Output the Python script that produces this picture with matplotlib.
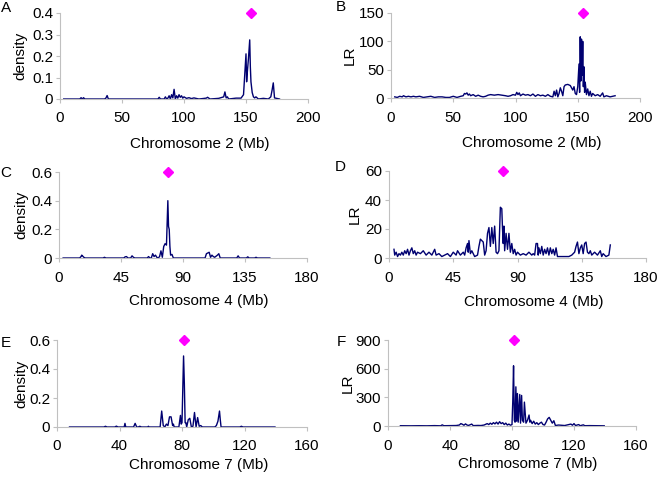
import numpy as np
import matplotlib.pyplot as plt
from matplotlib.ticker import FormatStrFormatter

plt.rcParams['font.family'] = ['Liberation Sans', 'DejaVu Sans']
plt.rcParams['font.size'] = 11

# ---- data ----
# A: chromosome 2, density
chr2_dens_pos = [3, 16, 17, 18, 19, 20, 36, 37, 38, 39, 79, 80, 81,
                 84, 85, 86, 87, 88, 89, 90, 91, 92, 93, 94, 95, 96, 97, 98, 99, 100,
                 102, 104, 106, 108, 112, 118, 119, 121,
                 128, 132, 133, 134, 135, 136,
                 142, 146, 148, 150, 150.5, 151, 152, 153, 153.5, 154, 155, 156, 157, 158, 160,
                 164, 168, 170, 171, 172, 173, 177]
chr2_dens_val = [0, 0, .006, 0, .006, 0, 0, .004, .016, 0, 0, .008, 0,
                 0, .01, 0, .004, .015, 0, .02, .005, .045, 0, .015, .004, .02, .008, .015, .004, .01,
                 .003, .006, .002, .005, 0, .004, .008, 0,
                 .003, .01, .033, .005, .01, 0,
                 .004, .004, .02, .21, .08, .12, .19, .275, .15, .08, .03, .01, .005, .01, 0,
                 .003, 0, .01, .04, .075, .005, 0]

# B: chromosome 2, LR
chr2_lr_pos = [3, 5, 7, 9, 10, 12, 14, 16, 18, 20, 23, 26, 29, 32, 35, 38, 41, 44, 47, 50,
               53, 56, 58, 59, 60, 61, 62, 63, 64, 66, 68, 70, 72, 74, 76, 78, 80, 83, 86, 89,
               92, 94, 96, 98, 100, 101, 102, 103, 104, 106, 108, 110, 112, 114, 116, 118, 120,
               122, 124, 126, 128, 130, 131, 132, 133, 134, 135, 136, 137, 138, 139, 140, 142,
               144, 146, 147, 148, 149, 150, 151, 151.5, 152, 152.5, 153, 153.5, 154, 154.5,
               155, 155.5, 156, 157, 158, 159, 160, 161, 162, 164, 166, 168, 170, 171, 173,
               176, 178, 180]
chr2_lr_val = [2, 1, 3, 2, 4, 2, 3, 2, 3, 2, 3, 1, 2, 3, 1, 2, 2, 1, 1, 3,
               1, 3, 4, 8, 7, 9, 5, 7, 4, 6, 3, 5, 3, 2, 3, 5, 6, 5, 6, 5,
               4, 3, 4, 6, 5, 10, 6, 9, 4, 7, 5, 6, 4, 7, 3, 6, 4,
               5, 3, 6, 3, 2, 12, 4, 14, 2, 8, 18, 12, 4, 20, 23, 24,
               22, 14, 20, 8, 6, 20, 60, 10, 108, 30, 104, 40, 100, 20,
               55, 10, 28, 6, 16, 4, 12, 3, 8, 4, 6, 3, 9, 2, 4,
               2, 3, 4]

# C: chromosome 4, density
chr4_dens_pos = [3, 15, 16, 16.5, 17, 18, 19, 32, 33, 34, 47, 48, 49, 50, 52, 53, 54, 55,
                 64, 65, 66, 67, 68, 69, 70, 71, 72, 73, 74, 75, 76, 77, 78, 79, 79.5, 80,
                 80.5, 81, 82, 83, 106, 107, 108, 109, 110, 111, 112, 113, 115, 116, 117,
                 129, 130, 131, 136, 137, 138, 142, 143, 144, 153]
chr4_dens_val = [0, 0, .01, .02, .015, .005, 0, 0, .005, 0, 0, .008, .01, 0, 0, .015, .005, 0,
                 0, .01, 0, 0, .03, .01, .02, .005, 0, .01, .05, .005, .08, .1, .09, .4, .22, .2,
                 .08, .02, .025, 0, 0, .03, .035, .04, .005, .02, .01, .005, .02, .03, 0,
                 0, .015, 0, 0, .008, 0, 0, .005, 0, 0]

# D: chromosome 4, LR
chr4_lr_pos = [3.5, 4, 5, 6, 7, 8, 9, 10, 11, 12, 13, 14, 15, 16, 17, 18, 19, 20, 22, 24,
               26, 28, 30, 32, 33, 35, 37, 39, 41, 43, 45, 47, 48, 50, 52, 53, 54, 55, 55.5,
               56, 57, 58, 60, 62, 63, 64, 65, 66, 67, 68, 69, 70, 71, 72, 73, 74, 75, 76,
               77, 78, 79, 79.5, 80, 80.5, 81, 82, 83, 84, 85, 86, 87, 88, 89, 90, 92, 94,
               96, 98, 100, 101, 102, 103, 104, 104.5, 105, 106, 107, 108, 109, 110, 111,
               112, 113, 114, 115, 116, 117, 118, 120, 123, 126, 128, 130, 131, 132, 133,
               134, 135, 136, 137, 138, 139, 140, 141, 142, 144, 146, 148, 149, 150, 152,
               154, 155]
chr4_lr_val = [6, 2, 4, 1, 3, 2, 4, 2, 5, 3, 6, 2, 5, 7, 3, 5, 2, 4, 3, 5,
               2, 4, 2, 6, 2, 3, 1, 2, 3, 1, 4, 2, 5, 2, 4, 2, 7, 10, 4,
               12, 3, 5, 1, 2, 8, 13, 12, 11, 2, 5, 17, 21, 8, 21, 10, 22, 4, 3,
               5, 35, 34, 20, 10, 22, 5, 17, 6, 17, 4, 10, 3, 6, 2, 4, 2, 3,
               2, 4, 2, 3, 2, 10, 10, 2, 7, 3, 8, 2, 6, 3, 7,
               2, 7, 3, 6, 2, 7, 1, 1, 1, 1, 2, 4, 8, 11, 3,
               7, 9, 3, 10, 11, 4, 3, 5, 2, 4, 2, 5, 1, 3, 1,
               2, 9]

# E: chromosome 7, density
chr7_dens_pos = [8, 30, 31, 32, 37, 38, 39, 43, 43.5, 44, 49, 50, 51, 52, 53, 54, 58, 58.5, 59,
                 66, 67, 68, 69, 70, 71, 72, 73, 74, 74.5, 75, 78, 79, 79.5, 80, 81, 81.5, 82,
                 82.5, 83, 84, 85, 86, 87, 88, 89, 90, 91, 92, 93, 101, 102, 103, 104, 104.5,
                 105, 117, 118, 119, 139.5]
chr7_dens_val = [0, 0, .005, 0, 0, .006, 0, 0, .025, 0, 0, .025, 0, 0, .005, 0, 0, .005, 0,
                 0, .11, .01, 0, .02, .01, .07, .07, .01, .02, 0, 0, .08, .02, .03, .49, .3, .03,
                 .03, 0, .05, .06, 0, .005, .1, 0, .065, .005, .01, 0, 0, .01, .04, .11, .05,
                 0, 0, .005, 0, 0]

# F: chromosome 7, LR
chr7_lr_pos = [8, 15, 20, 25, 30, 34, 35, 36, 40, 44, 46, 47, 48, 49, 50, 51, 52, 54, 55, 58,
               60, 62, 64, 65, 66, 67, 68, 69, 70, 71, 72, 73, 74, 75, 76, 77, 78, 79, 80,
               80.5, 81, 81.5, 82, 82.5, 83, 83.5, 84, 85, 85.5, 86.2, 86.7, 87.5, 88, 89,
               90, 91, 91.5, 92, 93, 94, 95, 96, 97, 98, 99, 100, 101, 102, 103, 104, 105,
               106, 107, 108, 110, 114, 118, 119, 120, 121, 123, 124, 126, 127, 130, 135,
               139.5]
chr7_lr_val = [3, 2, 3, 2, 4, 2, 12, 3, 4, 5, 10, 25, 18, 8, 22, 10, 6, 20, 4, 6,
               5, 10, 25, 15, 30, 18, 35, 22, 40, 20, 45, 25, 35, 15, 30, 10, 20, 8, 15,
               260, 630, 60, 40, 410, 50, 340, 40, 330, 30, 320, 60, 40, 250, 30,
               60, 115, 40, 60, 25, 50, 20, 35, 15, 30, 40, 15, 10, 40, 75, 90, 60,
               30, 55, 5, 10, 5, 20, 8, 25, 5, 15, 3, 12, 3, 4, 3,
               2]

positions = [chr2_dens_pos, chr2_lr_pos, chr4_dens_pos, chr4_lr_pos, chr7_dens_pos, chr7_lr_pos]
values = [chr2_dens_val, chr2_lr_val, chr4_dens_val, chr4_lr_val, chr7_dens_val, chr7_lr_val]
marker_pos = [154, 154, 79, 80, 81, 81]
letters = ['A', 'B', 'C', 'D', 'E', 'F']
ylabels = ['density', 'LR', 'density', 'LR', 'density', 'LR']
xlabels = ['Chromosome 2 (Mb)', 'Chromosome 2 (Mb)', 'Chromosome 4 (Mb)',
           'Chromosome 4 (Mb)', 'Chromosome 7 (Mb)', 'Chromosome 7 (Mb)']
xticks = [[0, 50, 100, 150, 200], [0, 50, 100, 150, 200],
          [0, 45, 90, 135, 180], [0, 45, 90, 135, 180],
          [0, 40, 80, 120, 160], [0, 40, 80, 120, 160]]
yticks = [[0, 0.1, 0.2, 0.3, 0.4], [0, 50, 100, 150],
          [0, 0.2, 0.4, 0.6], [0, 20, 40, 60],
          [0, 0.2, 0.4, 0.6], [0, 300, 600, 900]]

# ---- layout, in pixels of a 662x478 canvas ----
W, H = 662, 478
# left, right, top, bottom of each plot area
boxes = [(60, 308, 13, 99), (391, 640, 13, 98),
         (59, 307, 172, 258), (389, 646, 171, 258),
         (57, 307, 340, 427), (388, 636, 340, 426)]
letter_xy = [(6, 8), (341, 7), (6, 173), (340, 167), (6, 343), (341, 342)]
ylab_x = [-0.13, -0.136, -0.125, -0.105, -0.116, -0.133]
xlab_y = [-0.44, -0.445, -0.42, -0.43, -0.36, -0.36]

navy = '#000070'
grey = '#c0c0c0'

fig = plt.figure(figsize=(W / 100, H / 100), dpi=100)

for i in range(6):
    l, r, t, b = boxes[i]
    ax = fig.add_axes([l / W, 1 - b / H, (r - l) / W, (b - t) / H])
    ax.plot(positions[i], values[i], color=navy, lw=1.0)
    ytop = yticks[i][-1]
    ax.plot([marker_pos[i]], [ytop], marker='D', color='#ff00ff', ms=5,
            linestyle='none', clip_on=False)
    ax.set_xlim(0, xticks[i][-1])
    ax.set_ylim(0, ytop)
    ax.set_xticks(xticks[i])
    ax.set_yticks(yticks[i])
    ax.yaxis.set_major_formatter(FormatStrFormatter('%g'))
    for s in ['top', 'right']:
        ax.spines[s].set_visible(False)
    for s in ['left', 'bottom']:
        ax.spines[s].set_color(grey)
        ax.spines[s].set_linewidth(0.8)
    ax.tick_params(length=3, width=0.8, color=grey, labelsize=11)
    ax.tick_params(axis='x', pad=6)
    ax.tick_params(axis='y', pad=2)
    ax.set_ylabel(ylabels[i], fontsize=11)
    ax.yaxis.set_label_coords(ylab_x[i], 0.5)
    ax.set_xlabel(xlabels[i], fontsize=11)
    ax.xaxis.set_label_coords(0.565, xlab_y[i])
    fig.text(letter_xy[i][0] / W, 1 - letter_xy[i][1] / H, letters[i],
             ha='center', va='center', fontsize=11)

fig.savefig('out.png', dpi=100)
